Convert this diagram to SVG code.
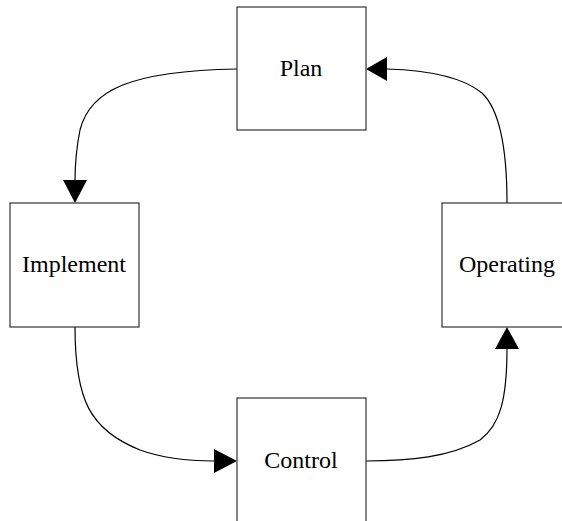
<svg xmlns="http://www.w3.org/2000/svg" width="562" height="521" viewBox="0 0 562 521">
  <style>
    .box { fill: #ffffff; stroke: #333333; stroke-width: 1.2; }
    .label { font-family: "Liberation Serif", "Times New Roman", serif; font-size: 24px; fill: #000000; text-anchor: middle; }
    .flow { fill: none; stroke: #000000; stroke-width: 1.2; }
    .head { fill: #000000; stroke: none; }
  </style>
  <rect width="562" height="521" fill="#ffffff"/>

  <g id="connectors">
    <!-- Plan -> Implement -->
    <path class="flow" d="M237,69 C130,71 90,90 80,130 C76,150 75,165 75,181"/>
    <polygon class="head" points="63,180 87,180 75,203"/>
    <!-- Implement -> Control -->
    <path class="flow" d="M75,327 C75,400 90,430 140,450 C165,459 190,461 214,461"/>
    <polygon class="head" points="214,449 214,473 237,461"/>
    <!-- Control -> Operating -->
    <path class="flow" d="M366,461 C410,461 450,457 480,440 C500,425 507,400 507,348"/>
    <polygon class="head" points="495,349 519,349 507,327"/>
    <!-- Operating -> Plan -->
    <path class="flow" d="M507,203 C507,150 500,110 482,93 C460,75 420,70 387,69"/>
    <polygon class="head" points="387,57 387,81 366,69"/>
  </g>

  <g id="plan">
    <rect class="box" x="237" y="7" width="129" height="123"/>
    <text class="label" x="301" y="76">Plan</text>
  </g>

  <g id="implement">
    <rect class="box" x="10" y="203" width="129" height="124"/>
    <text class="label" x="74" y="272">Implement</text>
  </g>

  <g id="operating">
    <rect class="box" x="442" y="203" width="129" height="124"/>
    <text class="label" x="507" y="272">Operating</text>
  </g>

  <g id="control">
    <rect class="box" x="237" y="398" width="129" height="130"/>
    <text class="label" x="301" y="468">Control</text>
  </g>
</svg>
